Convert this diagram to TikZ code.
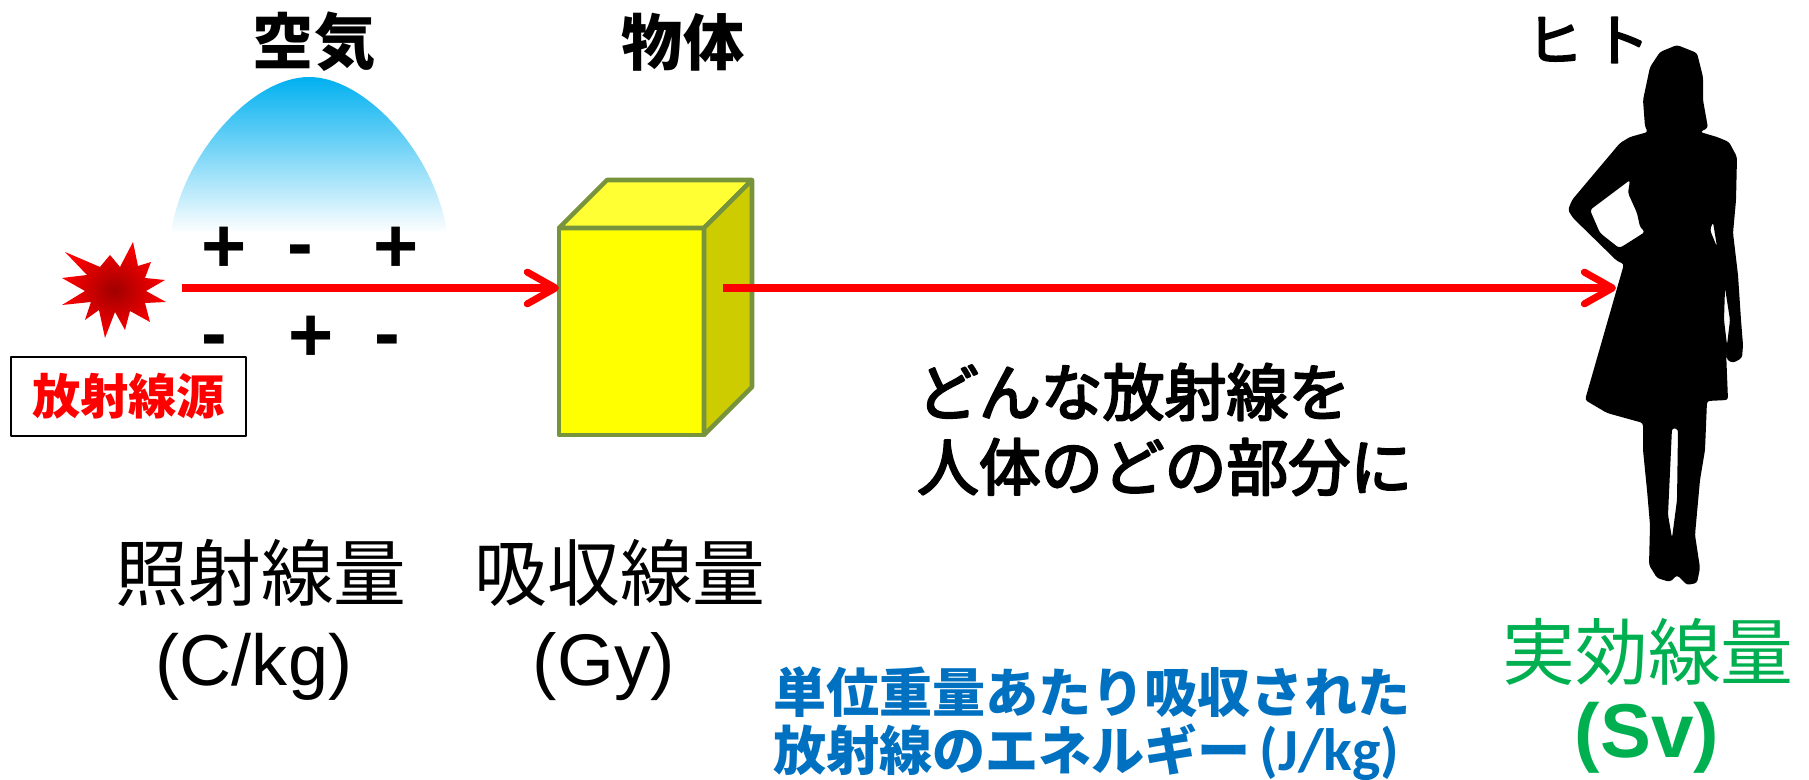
\documentclass[tikz,border=0pt]{standalone}
\usepackage{fontspec}
\setmainfont{Liberation Sans}
\newfontfamily\jp{Noto Sans CJK JP}
\newfontfamily\jpmed[FakeBold=3.5]{Noto Sans CJK JP}
\newfontfamily\unitfont{Carlito}
\usetikzlibrary{arrows.meta}
\newcommand\setfs[1]{\fontsize{#1pt}{#1pt}\selectfont}
\definecolor{airblue}{RGB}{0,176,240}
\definecolor{burstdark}{RGB}{160,0,0}
\definecolor{cubefront}{RGB}{255,255,0}
\definecolor{cubetop}{RGB}{255,255,51}
\definecolor{cubeside}{RGB}{204,204,0}
\definecolor{cubeedge}{RGB}{119,147,60}
\definecolor{noteblue}{RGB}{0,112,192}
\definecolor{sievgreen}{RGB}{0,176,80}
\begin{document}
\begin{tikzpicture}[x=0.01cm, y=-0.01cm, line join=round,
  lbl/.style={inner sep=0pt, outer sep=0pt},
  ray/.style={draw=red, line width=2pt,
    -{Straight Barb[length=8pt, width=9pt, round]}},
  sign/.style={lbl, font=\bfseries\setfs{22}}]
\useasboundingbox (0,0) rectangle (1809,780);

% ionised air above the source
\shade[top color=airblue, bottom color=white]
  (171,233) .. controls (182,155) and (252,77) .. (309,77)
  .. controls (366,77) and (436,155) .. (447,233) -- cycle;
\node[lbl, font=\jp\bfseries\setfs{17.4}] (air) at (314,42) {空気};

% ion pairs
\node[sign] (p1) at (224,250) {+};
\node[sign] (m1) at (300,257) {-};
\node[sign] (p2) at (396,250) {+};
\node[sign] (m2) at (214,347) {-};
\node[sign] (p3) at (311,339) {+};
\node[sign] (m3) at (387,347) {-};

% radiation source
\shade[inner color=burstdark, outer color=red]
  (133,242) -- (138,266) -- (151,262) -- (145,278) -- (165,280) -- (146,291)
  -- (166,302) -- (145,303) -- (150,322) -- (130,311) -- (125,330) -- (115,312)
  -- (105,338) -- (99,310) -- (85,320) -- (91,302) -- (62,305) -- (85,291)
  -- (62,278) -- (87,275) -- (65,252) -- (100,267) -- (110,255) -- (120,267)
  -- cycle;
\coordinate (src) at (115,290);
\node[draw=black, line width=0.8pt, minimum width=2.35cm, minimum height=0.79cm,
  inner sep=0pt, font=\jp\bfseries\setfs{13.7}, text=red] (srcbox) at (128.5,396.5) {放射線源};

% object (cube)
\filldraw[fill=cubefront, draw=cubeedge, line width=1.3pt] (559,228) rectangle (704,435);
\filldraw[fill=cubetop, draw=cubeedge, line width=1.3pt]
  (559,228) -- (607,180) -- (752,180) -- (704,228) -- cycle;
\filldraw[fill=cubeside, draw=cubeedge, line width=1.3pt]
  (704,228) -- (752,180) -- (752,387) -- (704,435) -- cycle;
\node[lbl, minimum width=1.45cm, minimum height=2.07cm] (obj) at (631.5,331.5) {};
\node[lbl, font=\jp\bfseries\setfs{17.4}] (objlbl) at (683,42) {物体};

% human figure
\fill[black, even odd rule, rounded corners=0.8pt]
  (1677,45) -- (1697,53) -- (1703,77) -- (1703,100) -- (1708,128) -- (1700,132)
  -- (1717,137) -- (1729,142) -- (1737,157) -- (1736,200) -- (1733,233)
  -- (1738,275) -- (1741,320) -- (1743,345) -- (1742,358) -- (1733,363)
  -- (1727,360) -- (1726,350) -- (1728,400) -- (1707,401) -- (1705,450)
  -- (1700,480) -- (1695,535) -- (1700,568) -- (1697,583) -- (1687,585)
  -- (1677,575) -- (1670,582) -- (1657,578) -- (1649,565) -- (1650,525)
  -- (1647,490) -- (1643,450) -- (1643,423) -- (1607,413) -- (1585,400)
  -- (1624,264) -- (1617,261) -- (1573,218) -- (1568,210) -- (1572,200)
  -- (1620,143) -- (1630,137) -- (1648,132) -- (1645,127) -- (1643,100)
  -- (1650,67) -- (1660,52) -- cycle
  (1630,180) -- (1628,193) -- (1637,213) -- (1640,227) -- (1645,232)
  -- (1623,246) -- (1619,248) -- (1600,233) -- (1590,210) -- cycle
  (1713,222) -- (1710,230) -- (1717,247) -- cycle
  (1725,288) -- (1730,320) -- (1727,345) -- (1724,320) -- cycle
  (1672,428) -- (1678,429) -- (1677,500) -- (1672,538) -- (1668,515)
  -- (1671,450) -- cycle;
\coordinate (hip) at (1616,288);
\node[lbl, font=\jpmed\setfs{16}] (human) at (1588,40) {ヒ\hspace{3pt}ト};

% radiation paths
\coordinate (r1) at (182,288);
\coordinate (r2) at (723,288);
\draw[ray] (r1) -- (obj.west |- r1);
\draw[ray] (r2) -- (hip);

% quantities
\node[lbl, anchor=west, font=\jpmed\setfs{17.6}] (q1) at (917,392) {どんな放射線を};
\node[lbl, anchor=west, font=\jpmed\setfs{17.6}] (q2) at (917,467) {人体のどの部分に};

\node[lbl, font=\jp\setfs{20.7}] (exp) at (261,573) {照射線量};
\node[lbl, font=\setfs{20.5}] (expu) at (254,667) {(C/kg)};
\node[lbl, font=\jp\setfs{20.7}] (abs) at (620,573) {吸収線量};
\node[lbl, font=\setfs{20.8}] (absu) at (604,667) {(Gy)};

\node[lbl, anchor=west, font=\jp\bfseries\setfs{15.1}, text=noteblue] (n1) at (773,692) {単位重量あたり吸収された};
\node[lbl, anchor=west, font=\jp\bfseries\setfs{15.1}, text=noteblue] (n2) at (773,752) {放射線のエネルギー\,{\unitfont\bfseries\setfs{17}(J/kg)}};

\node[lbl, font=\jp\setfs{20.7}, text=sievgreen] (eff) at (1648,652) {実効線量};
\node[lbl, font=\bfseries\setfs{21.7}, text=sievgreen] (effu) at (1647,738) {(Sv)};
\end{tikzpicture}
\end{document}
